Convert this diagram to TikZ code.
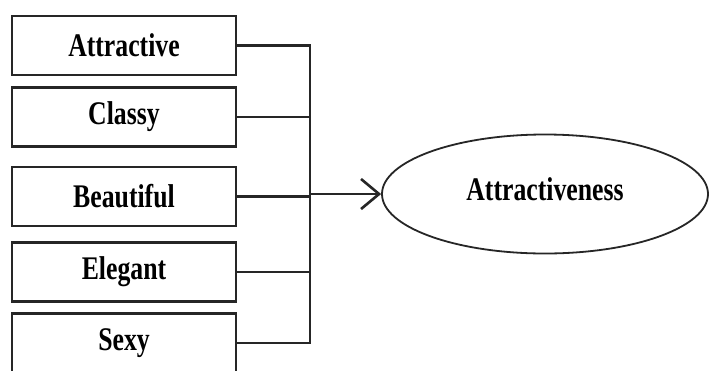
\documentclass[tikz,border=0pt]{standalone}
\usepackage{fontspec}
\setmainfont{Liberation Serif}[FakeStretch=0.78]
\usetikzlibrary{arrows.meta,shapes.geometric}
\begin{document}
\begin{tikzpicture}[x=1pt,y=-1pt,
  itembox/.style={draw=black!85,line width=2.6pt,minimum width=224pt,minimum height=59pt,inner sep=0pt,
    font=\fontsize{33}{36}\selectfont\bfseries},
  conn/.style={draw=black!85,line width=2.6pt},
  construct/.style={draw=black!85,line width=1.8pt,ellipse,minimum width=326pt,minimum height=119pt,inner sep=0pt,
    font=\fontsize{33}{36}\selectfont\bfseries}]
\clip (0,0) rectangle (709,370);
\fill[white] (0,0) rectangle (709,370);
\node[itembox] (a) at (124,45.5) {Attractive};
\node[itembox] (c) at (124,117) {Classy};
\node[itembox] (b) at (124,196.5) {Beautiful};
\node[itembox] (e) at (124,272) {Elegant};
\node[itembox] (s) at (124,343) {Sexy};
\node[construct] (t) at (545,194) {\raisebox{10pt}{Attractiveness}};
\coordinate (top) at (310,45.5);
\coordinate (bot) at (310,343);
\coordinate (j) at (310,194);
\draw[conn] (a.east) -- (top) -- (bot) -- (s.east);
\draw[conn] (c.east) -- (c.east -| top);
\draw[conn] (b.east) -- (b.east -| top);
\draw[conn] (e.east) -- (e.east -| top);
\draw[conn,-{Straight Barb[length=18pt,width=30pt,line width=2.6pt]}] (j) -- (t.west);
\end{tikzpicture}
\end{document}
